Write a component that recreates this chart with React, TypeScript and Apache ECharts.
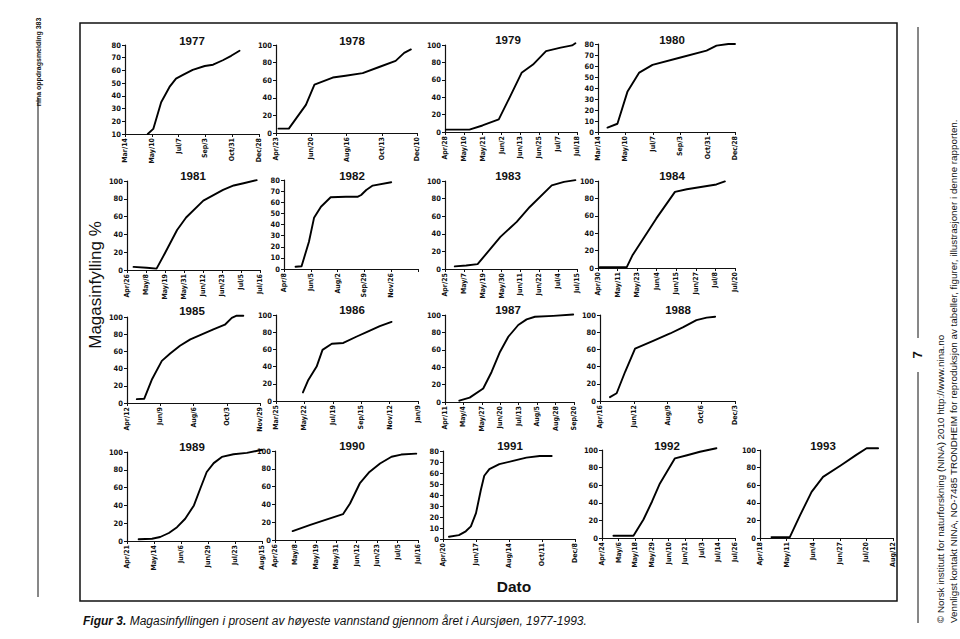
import React, { useEffect, useRef } from "react";
import * as echarts from "echarts";

// ---- data: tick labels, span (days from first to last tick), day offsets, filling % ----
const ticks1977 = ["Mar/14", "May/10", "Jul/7", "Sep/3", "Oct/31", "Dec/28"];
const span1977 = 289;
const days1977 = [49, 61, 78, 96, 110, 125, 146, 172, 190, 211, 229, 247];
const fill1977 = [10, 14, 35, 47, 53.5, 56.5, 60.5, 63.5, 64.5, 68, 71.5, 75.5];

const ticks1978 = ["Apr/23", "Jun/20", "Aug/16", "Oct/13", "Dec/10"];
const span1978 = 231;
const days1978 = [4, 21, 49, 63, 93, 114, 142, 169, 196, 210, 221];
const fill1978 = [5, 5, 32, 55, 63, 65, 68, 75, 82, 91, 95];

const ticks1979 = ["Apr/28", "May/10", "May/21", "Jun/2", "Jun/13", "Jun/25", "Jul/7", "Jul/18"];
const span1979 = 81;
const days1979 = [0.5, 15, 23, 33, 40, 47, 54, 62, 71, 78, 80];
const fill1979 = [2.7, 2.7, 7.5, 14.5, 41, 68, 77.5, 93, 97, 99.5, 102];

const ticks1980 = ["Mar/14", "May/10", "Jul/7", "Sep/3", "Oct/31", "Dec/28"];
const span1980 = 289;
const days1980 = [20, 41, 62, 87, 115, 172, 229, 250, 275, 289];
const fill1980 = [4, 7.5, 36.5, 54, 61, 67.5, 74, 78.5, 80, 80];

const ticks1981 = ["Apr/26", "May/8", "May/19", "May/31", "Jun/12", "Jun/23", "Jul/5", "Jul/16"];
const span1981 = 81;
const days1981 = [4, 12, 18, 23, 30.5, 36, 46.5, 58.5, 65, 71, 79];
const fill1981 = [3.5, 2.5, 1.5, 18.5, 45, 59, 78, 90, 95, 97.5, 101];

const ticks1982 = ["Apr/8", "Jun/5", "Aug/2", "Sep/29", "Nov/26", ""];
const span1982 = 290;
const days1982 = [25, 38, 54, 65, 80, 101, 134, 160, 167, 178, 192, 232];
const fill1982 = [2, 2.5, 24.5, 46, 56, 64.5, 65, 65, 66.5, 71, 75, 78];

const ticks1983 = ["Apr/25", "May/7", "May/19", "May/30", "Jun/11", "Jun/22", "Jul/4", "Jul/15"];
const span1983 = 81;
const days1983 = [6, 13, 20, 34, 44, 52, 65.5, 73, 80];
const fill1983 = [3, 4, 5.5, 36.5, 53.5, 70.5, 95, 99, 101];

const ticks1984 = ["Apr/30", "May/11", "May/23", "Jun/4", "Jun/15", "Jun/27", "Jul/8", "Jul/20"];
const span1984 = 81;
const days1984 = [1, 17, 20.5, 27.5, 34.5, 45.5, 52.5, 70, 75];
const fill1984 = [1, 1, 15, 36, 57, 87.5, 90.5, 96, 99.5];

const ticks1985 = ["Apr/12", "Jun/9", "Aug/6", "Oct/3", "Nov/29"];
const span1985 = 231;
const days1985 = [17, 30, 43, 60.5, 75, 92, 110, 127, 150, 170, 182, 190.5, 202];
const fill1985 = [4.5, 5, 27, 49, 57.5, 66.5, 74, 79, 85.5, 91, 99, 101.5, 101.5];

const ticks1986 = ["Mar/25", "May/22", "Jul/19", "Sep/15", "Nov/12", "Jan/9"];
const span1986 = 290;
const days1986 = [55, 66, 83, 95, 114, 137.5, 165, 185, 212, 236];
const fill1986 = [10, 24.5, 40, 59.5, 66.5, 67.5, 75, 80, 87, 92];

const ticks1987 = ["Apr/11", "May/4", "May/27", "Jun/20", "Jul/13", "Aug/5", "Aug/28", "Sep/20"];
const span1987 = 162;
const days1987 = [18, 31, 48, 58.5, 69, 79.5, 92, 102.5, 113, 136, 161];
const fill1987 = [1.5, 5, 15.5, 34.5, 57.5, 75, 88.5, 95, 98, 99, 100.5];

const ticks1988 = ["Apr/16", "Jun/12", "Aug/9", "Oct/6", "Dec/3"];
const span1988 = 231;
const days1988 = [17, 28.5, 43, 60, 91, 120, 142.5, 165, 182.5, 197];
const fill1988 = [4.5, 9, 34, 61, 70, 78.5, 86, 94, 97, 98];

const ticks1989 = ["Apr/21", "May/14", "Jun/6", "Jun/29", "Jul/23", "Aug/15"];
const span1989 = 116;
const days1989 = [10, 21.5, 28.5, 36, 43, 50, 57.5, 63, 68.5, 74.5, 81.5, 91.5, 103, 116];
const fill1989 = [2, 2.5, 4.5, 9, 15.5, 25, 40, 59, 77.5, 87.5, 94.5, 97.5, 99, 102.5];

const ticks1990 = ["Apr/26", "May/8", "May/19", "May/31", "Jun/12", "Jun/23", "Jul/5", "Jul/16"];
const span1990 = 81;
const days1990 = [10, 20, 29, 38.5, 42.5, 48, 53.5, 59.5, 66, 71.5, 80];
const fill1990 = [10, 17, 23, 29, 41, 63.5, 76.5, 86, 93.5, 96, 97];

const ticks1991 = ["Apr/20", "Jun/17", "Aug/14", "Oct/11", "Dec/8"];
const span1991 = 232;
const days1991 = [10.5, 28, 40, 49, 58, 66.5, 72.5, 81.5, 99, 123, 146.5, 170, 191];
const fill1991 = [2, 3.5, 7, 11.5, 23.5, 44.5, 57.5, 63.5, 68, 71, 74, 75.5, 75.5];

const ticks1992 = ["Apr/24", "May/6", "May/18", "May/29", "Jun/10", "Jun/21", "Jul/3", "Jul/14", "Jul/26"];
const span1992 = 93;
const days1992 = [8, 22, 29, 35, 40.5, 51, 59.5, 68.5, 80];
const fill1992 = [2.5, 2.5, 21, 41.5, 62, 90.5, 94, 98, 102];

const ticks1993 = ["Apr/18", "May/11", "Jun/4", "Jun/27", "Jul/20", "Aug/12"];
const span1993 = 116;
const days1993 = [10, 26, 35, 45, 55, 71, 84, 93, 103];
const fill1993 = [1, 1, 26, 52.5, 69.5, 83, 94.5, 102, 102];

// y-axis scales: [min, max, step]
const yScale1977 = [10, 80, 10];
const yScale80 = [0, 80, 10];
const yScale100 = [0, 100, 20];

const panels = [
  { year: "1977", ticks: ticks1977, span: span1977, days: days1977, fill: fill1977, y: yScale1977 },
  { year: "1978", ticks: ticks1978, span: span1978, days: days1978, fill: fill1978, y: yScale100 },
  { year: "1979", ticks: ticks1979, span: span1979, days: days1979, fill: fill1979, y: yScale100 },
  { year: "1980", ticks: ticks1980, span: span1980, days: days1980, fill: fill1980, y: yScale80 },
  { year: "1981", ticks: ticks1981, span: span1981, days: days1981, fill: fill1981, y: yScale100 },
  { year: "1982", ticks: ticks1982, span: span1982, days: days1982, fill: fill1982, y: yScale80 },
  { year: "1983", ticks: ticks1983, span: span1983, days: days1983, fill: fill1983, y: yScale100 },
  { year: "1984", ticks: ticks1984, span: span1984, days: days1984, fill: fill1984, y: yScale100 },
  { year: "1985", ticks: ticks1985, span: span1985, days: days1985, fill: fill1985, y: yScale100 },
  { year: "1986", ticks: ticks1986, span: span1986, days: days1986, fill: fill1986, y: yScale100 },
  { year: "1987", ticks: ticks1987, span: span1987, days: days1987, fill: fill1987, y: yScale100 },
  { year: "1988", ticks: ticks1988, span: span1988, days: days1988, fill: fill1988, y: yScale100 },
  { year: "1989", ticks: ticks1989, span: span1989, days: days1989, fill: fill1989, y: yScale100 },
  { year: "1990", ticks: ticks1990, span: span1990, days: days1990, fill: fill1990, y: yScale100 },
  { year: "1991", ticks: ticks1991, span: span1991, days: days1991, fill: fill1991, y: yScale80 },
  { year: "1992", ticks: ticks1992, span: span1992, days: days1992, fill: fill1992, y: yScale100 },
  { year: "1993", ticks: ticks1993, span: span1993, days: days1993, fill: fill1993, y: yScale100 },
];

// ---- layout: [left, top, width, height, titleX, titleY] ----
const layout = [
  [125, 45, 134, 89, 192, 41],
  [276, 45, 141, 88, 352, 41],
  [445, 45, 132, 87, 508, 40],
  [598, 44, 137, 88, 672, 40],
  [127, 181, 133, 89, 193, 176],
  [284, 180, 134, 89, 352, 176],
  [445, 181, 132, 88, 508, 176],
  [598, 181, 137, 87, 672, 176],
  [127, 317, 133, 86, 192, 311],
  [276, 315, 142, 86, 352, 310],
  [445, 315, 129, 87, 508, 310],
  [600, 315, 135, 86, 678, 310],
  [127, 452, 135, 89, 192, 447],
  [275, 451, 143, 89, 352, 446],
  [443, 451, 132, 88, 510, 446],
  [602, 450, 133, 88, 667, 446],
  [760, 450, 133, 88, 823, 446],
];

const NARROW = "'Liberation Sans Narrow', 'DejaVu Sans Condensed', 'Arial Narrow', sans-serif";
const SANS = "'Liberation Sans', Arial, sans-serif";
const INK = "#111";

function txt(x: number, y: number, text: string, o: any = {}) {
  const align = o.align || "center";
  const va = o.va || "middle";
  return {
    type: "text",
    x,
    y,
    rotation: o.rot || 0,
    silent: true,
    style: {
      text,
      fill: INK,
      fontSize: o.size || 11,
      fontWeight: o.weight || "normal",
      fontStyle: o.style || "normal",
      fontFamily: o.family || SANS,
      align,
      verticalAlign: va,
      textAlign: align,
      textVerticalAlign: va,
      rich: o.rich,
    },
  };
}

function line(x1: number, y1: number, x2: number, y2: number, w = 1) {
  return {
    type: "line",
    silent: true,
    shape: { x1, y1, x2, y2 },
    style: { stroke: INK, lineWidth: w },
  };
}

export default function App() {
  const ref = useRef<HTMLDivElement>(null);

  useEffect(() => {
    document.body.style.margin = "0";
    if (!ref.current) return;
    const chart = echarts.init(ref.current, undefined, { renderer: "svg" });

    const grid = panels.map((_, i) => ({
      left: layout[i][0],
      top: layout[i][1],
      width: layout[i][2],
      height: layout[i][3],
      containLabel: false,
    }));

    const xAxis = panels.map((p, i) => ({
      type: "value",
      gridIndex: i,
      min: 0,
      max: p.ticks.length - 1,
      interval: 1,
      axisLine: { show: true, onZero: false, lineStyle: { color: INK, width: 1.2 } },
      axisTick: { show: true, inside: false, length: 3, lineStyle: { color: INK, width: 1 } },
      splitLine: { show: false },
      axisLabel: {
        rotate: 90,
        margin: 4,
        fontSize: 7,
        fontWeight: "bold",
        fontFamily: NARROW,
        color: INK,
        showMinLabel: true,
        showMaxLabel: true,
        formatter: (v: number) => p.ticks[Math.round(v)] ?? "",
      },
    }));

    const yAxis = panels.map((p, i) => ({
      type: "value",
      gridIndex: i,
      min: p.y[0],
      max: p.y[1],
      interval: p.y[2],
      axisLine: { show: true, onZero: false, lineStyle: { color: INK, width: 1.2 } },
      axisTick: { show: true, inside: false, length: 3, lineStyle: { color: INK, width: 1 } },
      splitLine: { show: false },
      axisLabel: {
        margin: 4,
        fontSize: 7.5,
        fontWeight: "bold",
        fontFamily: NARROW,
        color: INK,
      },
    }));

    const series = panels.map((p, i) => {
      const perTick = p.span / (p.ticks.length - 1);
      return {
        type: "line",
        name: p.year,
        xAxisIndex: i,
        yAxisIndex: i,
        showSymbol: false,
        smooth: false,
        clip: false,
        lineStyle: { color: "#000", width: 1.9, join: "round", cap: "round" },
        data: p.days.map((d, k) => [d / perTick, p.fill[k]]),
      };
    });

    const titles = panels.map((p, i) =>
      txt(layout[i][4], layout[i][5], p.year, { size: 11.5, weight: "bold" })
    );

    const graphic = [
      {
        type: "rect",
        silent: true,
        shape: { x: 80, y: 23, width: 817, height: 578 },
        style: { fill: "none", stroke: INK, lineWidth: 1.5 },
      },
      line(38, 98, 38, 597, 1),
      txt(38, 62, "nina oppdragsmelding 383", { rot: Math.PI / 2, size: 7, weight: "bold" }),
      line(918, 27, 918, 338, 1),
      line(918, 372, 918, 623, 1),
      txt(917, 355, "7", { rot: Math.PI / 2, size: 13, weight: "bold" }),
      txt(940, 623, "© Norsk institutt for naturforskning (NINA) 2010 http://www.nina.no", {
        rot: Math.PI / 2,
        size: 9.8,
        align: "left",
      }),
      txt(
        953,
        623,
        "Vennligst kontakt NINA, NO-7485 TRONDHEIM for reproduksjon av tabeller, figurer, illustrasjoner i denne rapporten.",
        { rot: Math.PI / 2, size: 9.8, align: "left" }
      ),
      txt(95, 285, "Magasinfylling %", { rot: Math.PI / 2, size: 17 }),
      txt(514, 586, "Dato", { size: 15.5, weight: "bold" }),
      txt(
        83,
        621,
        "{b|Figur 3.} Magasinfyllingen i prosent av høyeste vannstand gjennom året i Aursjøen, 1977-1993.",
        {
          align: "left",
          size: 12,
          style: "italic",
          rich: {
            b: { fontWeight: "bold", fontStyle: "italic", fontSize: 12, fontFamily: SANS, fill: INK },
          },
        }
      ),
      ...titles,
    ];

    chart.setOption({
      animation: false,
      backgroundColor: "#fff",
      grid,
      xAxis,
      yAxis,
      series,
      graphic,
    } as any);

    return () => chart.dispose();
  }, []);

  return <div ref={ref} style={{ width: 960, height: 639 }} />;
}
